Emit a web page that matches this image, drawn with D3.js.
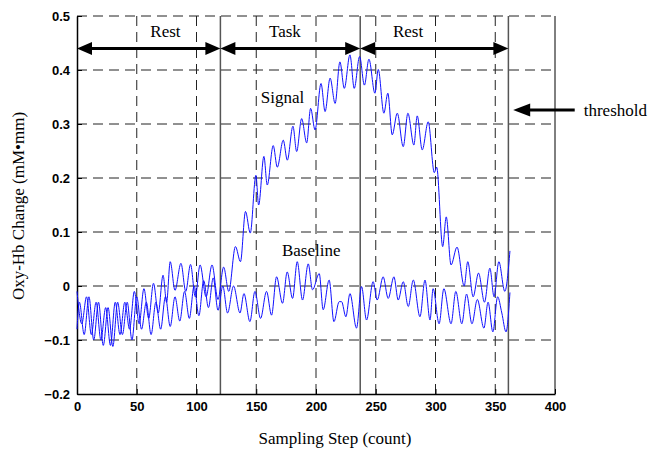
<!DOCTYPE html>
<html>
<head>
<meta charset="utf-8">
<script src="https://d3js.org/d3.v7.min.js"></script>
<style>
  body { margin: 0; background: #fff; }
  .tick text { font-family: "Liberation Sans Narrow", "Liberation Sans", Arial, sans-serif; font-weight: bold; font-size: 13px; fill: #000; }
  .serif { font-family: "Liberation Serif", "Times New Roman", serif; fill: #000; }
</style>
</head>
<body>
<svg width="652" height="450"></svg>
<script>
// values (extrema of each oscillating trace)
var signalX = [0,4,8,12,16,20,24,28,32,36,40,44,48,52,56,60,64,68,72,75,78,82,87,91,95,99,103,108,113,118,
  122.7,127,132.6,136.8,141,145,149.7,152,156.4,159.2,164.2,167.6,172.6,176,180.7,183.8,188,192.2,195.5,199.2,
  204.2,207.6,211.8,216,220,223.7,228.4,232,236.5,240.5,244.3,249.3,252.1,256.8,260.1,263.8,268,273,276.9,281.9,
  284.7,288.9,293.9,299,301,306,309,313,318,324,327,331.5,336,341,345.5,349,353,358,362.3];
var signalY = [-0.01,-0.07,-0.02,-0.09,-0.03,-0.10,-0.04,-0.11,-0.03,-0.09,-0.03,-0.08,-0.01,-0.07,-0.005,-0.06,0.005,-0.05,0.02,-0.03,0.045,-0.008,0.042,-0.01,0.04,-0.02,0.039,-0.02,0.039,-0.025,
  0.035,-0.01,0.073,0.045,0.138,0.098,0.205,0.15,0.24,0.187,0.26,0.22,0.27,0.233,0.296,0.249,0.31,0.265,0.329,0.289,
  0.375,0.323,0.385,0.338,0.415,0.366,0.428,0.366,0.425,0.372,0.42,0.357,0.401,0.32,0.357,0.28,0.32,0.258,0.32,0.261,
  0.315,0.252,0.304,0.21,0.22,0.073,0.128,0.039,0.072,0.0,0.045,-0.02,0.024,-0.03,0.033,-0.02,0.045,-0.01,0.065];

var baselineX = [0,2,6,10,14,18,22,26,30,34,38,42,46,50,54,58,62,66,70,74,78,82,86,90,94,98,102,106,110,114,118,
  122,126,131,136.4,139.7,144.7,148.9,153.6,158.6,162.8,167,172,175.9,180.4,184.3,188.7,193.5,197.1,202.7,206,211,215,
  219.4,221.4,225,228.4,233.9,238.1,242.3,247.8,251.2,256.2,260.4,265.2,268.8,273,277.2,281.4,287,291.2,295.4,298,303,307,
  313,317,322,326,330.5,335,340.5,344,348,352,355.5,359,362.3];
var baselineY = [-0.08,-0.03,-0.09,-0.02,-0.10,-0.03,-0.11,-0.04,-0.112,-0.03,-0.09,-0.03,-0.10,-0.02,-0.08,-0.03,-0.09,-0.03,-0.08,-0.02,-0.075,-0.02,-0.065,-0.01,-0.06,0.0,-0.055,0.01,-0.04,0.015,-0.045,
  0.0,-0.05,0.0,-0.05,-0.014,-0.066,-0.01,-0.06,-0.01,-0.054,0.017,-0.032,0.026,-0.023,0.045,-0.026,0.041,-0.007,0.023,-0.044,0.011,-0.066,
  -0.029,-0.029,-0.057,-0.014,-0.078,-0.001,-0.063,0.008,-0.026,0.017,-0.023,0.017,-0.026,0.008,-0.038,0.011,-0.057,0.011,-0.063,-0.005,-0.07,-0.005,
  -0.07,-0.01,-0.07,-0.015,-0.07,-0.025,-0.078,-0.03,-0.085,-0.02,-0.05,-0.085,-0.012];

var xTicks = [0,50,100,150,200,250,300,350,400];
var yTicks = [-0.2,-0.1,0,0.1,0.2,0.3,0.4,0.5];
var phaseBounds = [0,120,237,361];
var phaseNames = ["Rest","Task","Rest"];
var phaseLabelX = [74,174,277];

var svg = d3.select("svg"),
    margin = {top: 16, right: 97, bottom: 56, left: 77},
    width = +svg.attr("width") - margin.left - margin.right,
    height = +svg.attr("height") - margin.top - margin.bottom,
    g = svg.append("g").attr("transform", "translate(" + margin.left + "," + margin.top + ")");

var x = d3.scaleLinear().domain([0, 400]).range([0, width]);
var y = d3.scaleLinear().domain([-0.2, 0.5]).range([height, 0]);

var fmt = function (d) { return d === 0 ? "0" : d3.format(".1f")(d).replace("-", "\u2212"); };

// dashed grid
g.selectAll(".vgrid").data(xTicks.slice(1, -1)).enter().append("line")
  .attr("x1", x).attr("x2", x).attr("y1", 0).attr("y2", height)
  .attr("stroke", "#222").attr("stroke-dasharray", "10,6");
g.selectAll(".hgrid").data(yTicks.slice(1)).enter().append("line")
  .attr("x1", 0).attr("x2", width).attr("y1", y).attr("y2", y)
  .attr("stroke", "#222").attr("stroke-dasharray", "10,6");

// right frame
g.append("line").attr("x1", width).attr("x2", width).attr("y1", 0).attr("y2", height)
  .attr("stroke", "#000");

// phase boundaries
g.selectAll(".phase").data(phaseBounds.slice(1)).enter().append("line")
  .attr("x1", x).attr("x2", x).attr("y1", 0).attr("y2", height)
  .attr("stroke", "#555").attr("stroke-width", 1.5);

// axes
g.append("g").attr("transform", "translate(0," + height + ")")
  .call(d3.axisBottom(x).tickValues(xTicks).tickSize(-5).tickSizeOuter(0).tickPadding(8).tickFormat(d3.format("d")))
  .call(function (a) { a.select(".domain").attr("stroke-width", 1.5); });
g.append("g")
  .call(d3.axisLeft(y).tickValues(yTicks).tickSize(-5).tickSizeOuter(0).tickPadding(7).tickFormat(fmt))
  .call(function (a) { a.select(".domain").attr("stroke-width", 1.5); });

// traces
var line = d3.line().x(function (d) { return x(d[0]); }).y(function (d) { return y(d[1]); })
  .curve(d3.curveMonotoneX);
g.append("path").datum(d3.zip(baselineX, baselineY)).attr("d", line)
  .attr("fill", "none").attr("stroke", "#1010ff").attr("stroke-width", 1);
g.append("path").datum(d3.zip(signalX, signalY)).attr("d", line)
  .attr("fill", "none").attr("stroke", "#1010ff").attr("stroke-width", 1);

// double arrows for phases
var ay = y(0.44), hl = 15, hw = 6.5;
phaseBounds.slice(0, -1).forEach(function (b, i) {
  var x0 = x(b), x1 = x(phaseBounds[i + 1]);
  g.append("line").attr("x1", x0 + hl - 2).attr("x2", x1 - hl + 2).attr("y1", ay).attr("y2", ay)
    .attr("stroke", "#000").attr("stroke-width", 3);
  g.append("path").attr("d", "M" + x0 + "," + ay + "L" + (x0 + hl) + "," + (ay - hw) + "L" + (x0 + hl) + "," + (ay + hw) + "Z");
  g.append("path").attr("d", "M" + x1 + "," + ay + "L" + (x1 - hl) + "," + (ay - hw) + "L" + (x1 - hl) + "," + (ay + hw) + "Z");
  g.append("text").attr("class", "serif").attr("x", x(phaseLabelX[i])).attr("y", 21)
    .attr("text-anchor", "middle").style("font-size", "17px").text(phaseNames[i]);
});

// threshold arrow (outside the plot)
var ty = y(0.326), tx0 = x(365), tx1 = x(416.5);
g.append("line").attr("x1", tx0 + 14).attr("x2", tx1).attr("y1", ty).attr("y2", ty)
  .attr("stroke", "#000").attr("stroke-width", 3);
g.append("path").attr("d", "M" + tx0 + "," + ty + "L" + (tx0 + 17) + "," + (ty - 6.5) + "L" + (tx0 + 17) + "," + (ty + 6.5) + "Z");
g.append("text").attr("class", "serif").attr("x", tx1 + 9).attr("y", ty + 6)
  .style("font-size", "17px").text("threshold");

// trace labels
g.append("text").attr("class", "serif").attr("x", x(172)).attr("y", y(0.339))
  .attr("text-anchor", "middle").style("font-size", "17px").text("Signal");
g.append("text").attr("class", "serif").attr("x", x(196)).attr("y", y(0.056))
  .attr("text-anchor", "middle").style("font-size", "17px").text("Baseline");

// axis titles
svg.append("text").attr("class", "serif").attr("x", margin.left + width / 2 + 19).attr("y", 444)
  .attr("text-anchor", "middle").style("font-size", "17px").text("Sampling Step (count)");
svg.append("text").attr("class", "serif")
  .attr("transform", "translate(24," + 206 + ") rotate(-90)")
  .attr("text-anchor", "middle").style("font-size", "17px").text("Oxy-Hb Change (mM\u2022mm)");
</script>
</body>
</html>
